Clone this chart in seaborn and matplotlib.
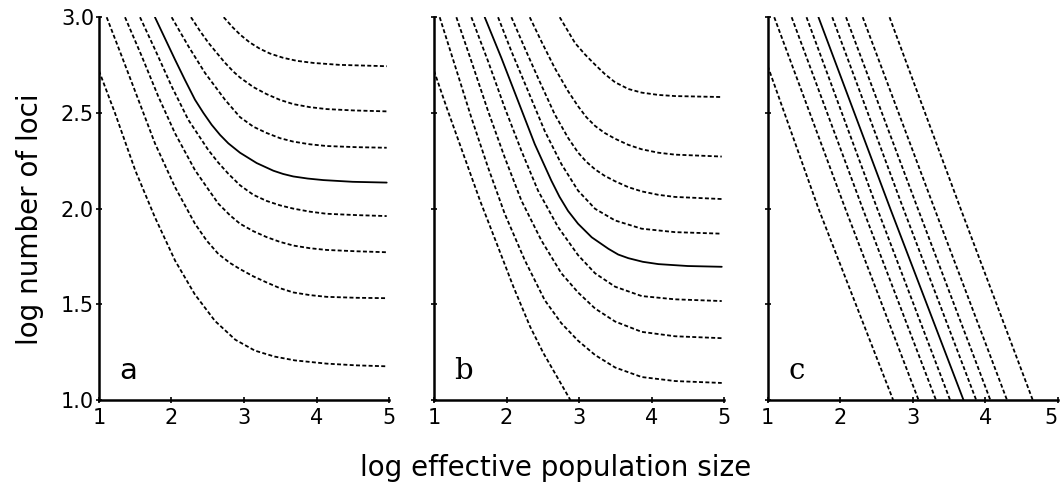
"""Three panels of contour lines: log number of loci vs log effective population size."""

import matplotlib
matplotlib.use("Agg")
import matplotlib.pyplot as plt
import pandas as pd
import seaborn as sns

# panel a -- eight contours, lowest first; index 4 is drawn solid
a_x = [
    [1.00, 1.22, 1.50, 1.77, 2.05, 2.32, 2.60, 2.88, 3.15, 3.42, 3.70, 4.14, 4.55, 4.97],
    [1.106, 1.313, 1.543, 1.772, 2.048, 2.324, 2.485, 2.646, 2.807, 2.945, 3.129, 3.313,
     3.497, 3.680, 3.910, 4.140, 4.554, 4.968],
    [1.359, 1.589, 1.818, 2.048, 2.324, 2.485, 2.646, 2.807, 2.945, 3.129, 3.313, 3.497,
     3.680, 3.910, 4.140, 4.554, 4.968],
    [1.566, 1.772, 2.002, 2.232, 2.508, 2.646, 2.784, 2.945, 3.129, 3.313, 3.497, 3.680,
     3.910, 4.140, 4.554, 4.968],
    [1.772, 2.048, 2.186, 2.324, 2.44, 2.554, 2.67, 2.784, 2.945, 3.175, 3.405, 3.54,
     3.680, 3.88, 4.094, 4.5, 4.968],
    [2.002, 2.232, 2.462, 2.738, 2.945, 3.129, 3.313, 3.497, 3.680, 3.910, 4.140, 4.554, 4.968],
    [2.269, 2.393, 2.508, 2.623, 2.738, 2.853, 2.945, 3.129, 3.313, 3.497, 3.680, 3.910,
     4.140, 4.508, 4.968],
    [2.72, 2.85, 2.95, 3.08, 3.22, 3.36, 3.54, 3.73, 3.96, 4.32, 4.97],
]
a_y = [
    [2.72, 2.50, 2.20, 1.956, 1.728, 1.553, 1.413, 1.315, 1.258, 1.227, 1.207, 1.190, 1.181, 1.176],
    [3.0, 2.797, 2.569, 2.341, 2.113, 1.921, 1.833, 1.763, 1.716, 1.684, 1.646, 1.614,
     1.584, 1.562, 1.548, 1.539, 1.534, 1.532],
    [3.0, 2.797, 2.586, 2.394, 2.201, 2.113, 2.026, 1.965, 1.921, 1.882, 1.851, 1.826,
     1.807, 1.793, 1.784, 1.777, 1.772],
    [3.0, 2.832, 2.639, 2.464, 2.306, 2.240, 2.182, 2.122, 2.072, 2.040, 2.017, 2.000,
     1.984, 1.973, 1.966, 1.961],
    [3.0, 2.779, 2.672, 2.569, 2.50, 2.438, 2.385, 2.341, 2.292, 2.238, 2.198, 2.181,
     2.168, 2.157, 2.149, 2.140, 2.136],
    [3.0, 2.849, 2.709, 2.569, 2.478, 2.428, 2.395, 2.368, 2.350, 2.336, 2.327, 2.321, 2.318],
    [3.0, 2.928, 2.867, 2.814, 2.762, 2.716, 2.685, 2.635, 2.598, 2.568, 2.546, 2.530,
     2.520, 2.513, 2.508],
    [3.0, 2.945, 2.908, 2.868, 2.835, 2.810, 2.788, 2.772, 2.761, 2.751, 2.744],
]
a_solid = 4

# panel b -- nine contours, lowest first; index 4 is drawn solid
b_x = [
    [1.00, 1.175, 1.404, 1.634, 1.865, 2.094, 2.324, 2.508, 2.692, 2.88],
    [1.078, 1.285, 1.515, 1.745, 1.975, 2.251, 2.526, 2.756, 2.986, 3.221, 3.497, 3.864,
     4.324, 4.968],
    [1.308, 1.515, 1.745, 1.975, 2.205, 2.480, 2.756, 2.986, 3.221, 3.497, 3.864, 4.324, 4.968],
    [1.515, 1.745, 1.975, 2.205, 2.434, 2.710, 2.986, 3.221, 3.497, 3.864, 4.324, 4.968],
    [1.699, 1.929, 2.159, 2.389, 2.618, 2.73, 2.848, 2.986, 3.175, 3.405, 3.54, 3.680,
     3.88, 4.094, 4.5, 4.968],
    [1.883, 2.067, 2.297, 2.526, 2.756, 2.986, 3.221, 3.497, 3.864, 4.324, 4.968],
    [2.067, 2.251, 2.434, 2.664, 2.848, 2.986, 3.10, 3.221, 3.35, 3.497, 3.68, 3.864,
     4.094, 4.324, 4.968],
    [2.320, 2.480, 2.664, 2.848, 2.986, 3.10, 3.221, 3.35, 3.497, 3.68, 3.864, 4.094,
     4.324, 4.968],
    [2.733, 2.945, 3.083, 3.221, 3.359, 3.497, 3.680, 3.864, 4.094, 4.324, 4.968],
]
b_y = [
    [2.72, 2.527, 2.285, 2.042, 1.817, 1.592, 1.384, 1.245, 1.124, 1.00],
    [3.0, 2.752, 2.475, 2.215, 1.973, 1.731, 1.522, 1.401, 1.31, 1.235, 1.17, 1.12,
     1.099, 1.089],
    [3.0, 2.770, 2.510, 2.267, 2.042, 1.834, 1.662, 1.562, 1.478, 1.410, 1.356, 1.333, 1.323],
    [3.0, 2.770, 2.527, 2.302, 2.094, 1.904, 1.757, 1.662, 1.592, 1.543, 1.526, 1.517],
    [3.0, 2.787, 2.562, 2.337, 2.146, 2.062, 1.988, 1.921, 1.850, 1.790, 1.760, 1.741,
     1.722, 1.710, 1.700, 1.696],
    [3.0, 2.822, 2.614, 2.406, 2.233, 2.094, 1.999, 1.938, 1.895, 1.877, 1.869],
    [3.0, 2.839, 2.683, 2.493, 2.37, 2.293, 2.245, 2.205, 2.172, 2.143, 2.112, 2.09,
     2.072, 2.061, 2.05],
    [3.0, 2.874, 2.735, 2.614, 2.535, 2.478, 2.432, 2.396, 2.365, 2.333, 2.310, 2.292,
     2.282, 2.272],
    [3.0, 2.865, 2.805, 2.752, 2.702, 2.660, 2.625, 2.606, 2.594, 2.588, 2.583],
]
b_solid = 4

# panel c -- nine near-straight contours, left to right; index 4 is solid
c_x = [
    [1.00, 1.70, 2.73],
    [1.09, 2.07, 3.08],
    [1.33, 2.31, 3.32],
    [1.535, 2.51, 3.515],
    [1.70, 2.69, 3.70],
    [1.89, 2.87, 3.875],
    [2.08, 3.07, 4.07],
    [2.31, 3.30, 4.30],
    [2.68, 3.66, 4.655],
]
c_y = [
    [2.745, 2.00, 1.00],
    [3.00, 2.00, 1.00],
    [3.00, 2.00, 1.00],
    [3.00, 2.00, 1.00],
    [3.00, 2.00, 1.00],
    [3.00, 2.00, 1.00],
    [3.00, 2.00, 1.00],
    [3.00, 2.00, 1.00],
    [3.00, 2.00, 1.00],
]
c_solid = 4

panel_letters = ["a", "b", "c"]
x_ticks = [1, 2, 3, 4, 5]
y_ticks = [1.0, 1.5, 2.0, 2.5, 3.0]


def _long_frame(xs, ys, solid):
    rows = []
    for i, (cx, cy) in enumerate(zip(xs, ys)):
        kind = "solid" if i == solid else "dashed"
        for x, y in zip(cx, cy):
            rows.append({"x": x, "y": y, "line": i, "kind": kind})
    return pd.DataFrame(rows)


sns.set_style("ticks")
plt.rcParams["font.family"] = ["DejaVu Sans"]
plt.rcParams["text.color"] = "black"

fig = plt.figure(figsize=(10.62, 4.92), dpi=100)
lefts = [0.0932, 0.4087, 0.7229]
panels = [(a_x, a_y, a_solid), (b_x, b_y, b_solid), (c_x, c_y, c_solid)]

for k, (left, (xs, ys, solid)) in enumerate(zip(lefts, panels)):
    ax = fig.add_axes([left, 0.187, 0.2731, 0.778])
    df = _long_frame(xs, ys, solid)
    sns.lineplot(data=df, x="x", y="y", units="line", estimator=None, sort=False,
                 style="kind", dashes={"solid": "", "dashed": (2.2, 1.3)},
                 color="black", linewidth=1.3, legend=False, ax=ax)
    ax.set_xlim(1, 5)
    ax.set_ylim(1, 3)
    ax.set_xticks(x_ticks)
    xl = ax.set_xticklabels([str(t) for t in x_ticks], fontsize=15)
    if k == 2:
        # last label sits at the figure edge
        xl[-1].set_horizontalalignment("right")
    ax.set_yticks(y_ticks)
    if k == 0:
        ax.set_yticklabels([f"{t:.1f}" for t in y_ticks], fontsize=15)
    else:
        ax.set_yticklabels([])
    ax.set_xlabel("")
    ax.set_ylabel("")
    sns.despine(ax=ax)
    for side in ("left", "bottom"):
        ax.spines[side].set_linewidth(1.8)
        ax.spines[side].set_color("black")
    ax.tick_params(axis="both", direction="inout", length=5, width=1.2, colors="black")
    ax.tick_params(axis="x", pad=3)
    ax.tick_params(axis="y", pad=1)
    fam = ["DejaVu Sans"] if k == 0 else ["DejaVu Serif"]
    ax.text(1.28, 1.11, panel_letters[k], fontsize=21, family=fam, ha="left", va="baseline")

fig.text(0.028, 0.555, "log number of loci", rotation=90, ha="center", va="center",
         fontsize=20)
fig.text(0.523, 0.048, "log effective population size", ha="center", va="center",
         fontsize=20)

fig.savefig("out.png", dpi=100)
plt.close(fig)
